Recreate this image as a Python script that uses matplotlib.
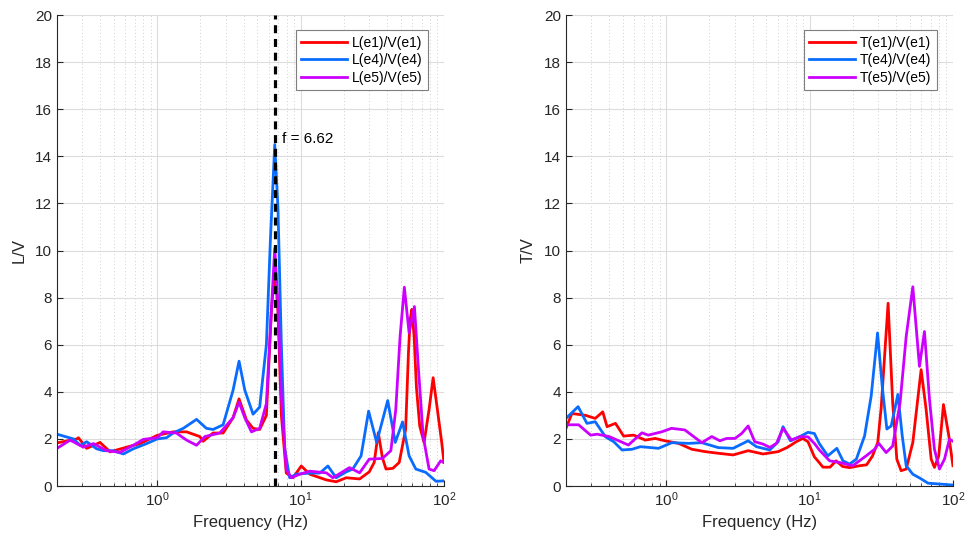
import numpy as np
import matplotlib
matplotlib.use("Agg")
import matplotlib.pyplot as plt
from matplotlib.ticker import LogLocator, NullFormatter, FixedLocator

plt.rcParams['font.family'] = ['Liberation Sans', 'DejaVu Sans']
plt.rcParams['mathtext.fontset'] = 'custom'
plt.rcParams['mathtext.rm'] = 'Liberation Sans'

# ---- left panel: L/V ----
f_L1 = [0.2, 0.275, 0.282, 0.322, 0.399, 0.469, 0.612, 0.757, 1.0, 1.29, 1.6, 1.98, 2.09, 2.45, 2.88,
        3.38, 3.72, 4.19, 4.66, 5.18, 5.77, 6.25, 6.6, 6.95, 7.34, 7.94, 8.85, 10.1, 11.6, 15.1, 17.7,
        20.8, 25.8, 30.1, 32.6, 34.8, 37.2, 39.4, 44.0, 48.7, 54.0, 56.5, 58.0, 59.7, 61.9, 64.2, 67.7,
        72.6, 78.7, 84.0, 89.9, 96.4, 100]
v_L1 = [1.83, 2.0, 2.05, 1.6, 1.85, 1.45, 1.65, 1.8, 2.15, 2.3, 2.3, 2.1, 1.9, 2.25, 2.25,
        2.9, 3.7, 2.8, 2.45, 2.4, 3.0, 7.4, 9.3, 7.4, 3.0, 0.55, 0.35, 0.85, 0.5, 0.26, 0.18,
        0.35, 0.3, 0.6, 1.0, 2.27, 1.2, 0.72, 0.75, 1.0, 2.4, 5.65, 7.05, 7.5, 6.35, 4.2, 2.55,
        1.85, 3.25, 4.6, 3.25, 1.85, 1.0]

f_L4 = [0.2, 0.26, 0.29, 0.322, 0.378, 0.421, 0.494, 0.58, 0.681, 0.843, 1.0, 1.16, 1.29, 1.52, 1.88,
        2.2, 2.45, 2.88, 3.38, 3.72, 4.08, 4.66, 5.18, 5.77, 6.15, 6.6, 6.95, 7.34, 7.74, 8.38, 9.33,
        11.6, 13.6, 15.5, 17.7, 20.8, 23.1, 26.4, 29.8, 33.9, 40.5, 45.7, 51.4, 57.1, 63.6, 74.6, 88, 100]
v_L4 = [2.2, 2.0, 1.73, 1.88, 1.58, 1.5, 1.5, 1.36, 1.58, 1.8, 2.0, 2.05, 2.25, 2.45, 2.83,
        2.45, 2.4, 2.6, 4.07, 5.3, 4.07, 3.05, 3.35, 6.0, 10.4, 14.5, 11.8, 6.0, 1.6, 0.35, 0.5,
        0.55, 0.55, 0.85, 0.35, 0.6, 0.72, 1.28, 3.18, 1.85, 3.63, 1.85, 2.72, 1.28, 0.72, 0.58, 0.2, 0.22]

f_L5 = [0.2, 0.247, 0.305, 0.359, 0.444, 0.55, 0.681, 0.8, 1.0, 1.1, 1.36, 1.6, 1.88, 2.15, 2.73,
        3.38, 3.72, 4.08, 4.54, 5.18, 5.77, 6.25, 6.6, 6.95, 7.34, 7.94, 8.61, 9.84, 11.6, 15.1, 16.8,
        21.9, 25.8, 30.1, 37.2, 42.6, 46.1, 49.4, 52.9, 57.1, 62.2, 66.4, 71.5, 78.7, 85.3, 94.8, 100]
v_L5 = [1.6, 1.95, 1.65, 1.8, 1.5, 1.43, 1.73, 1.98, 2.05, 2.3, 2.25, 1.95, 1.73, 2.1, 2.25,
        2.9, 3.56, 2.9, 2.3, 2.45, 3.5, 7.44, 10.1, 7.7, 3.8, 0.7, 0.35, 0.5, 0.63, 0.56, 0.35,
        0.78, 0.56, 1.14, 1.17, 1.5, 3.25, 6.35, 8.44, 6.5, 7.62, 4.94, 2.13, 0.72, 0.65, 1.07, 1.0]

# ---- right panel: T/V ----
f_T1 = [0.2, 0.22, 0.274, 0.32, 0.361, 0.387, 0.443, 0.505, 0.593, 0.715, 0.839, 0.98, 1.22, 1.51,
        1.87, 2.31, 2.93, 3.73, 4.74, 6.04, 7.0, 8.07, 8.97, 9.75, 10.8, 11.7, 12.4, 13.9, 15.3, 17.0,
        19.0, 22.3, 25.0, 27.5, 29.9, 31.6, 35.3, 38.0, 40.6, 43.5, 47.2, 52.5, 60.0, 65.0, 70.5,
        74.3, 79.6, 85.9, 93.6, 100]
v_T1 = [2.45, 3.08, 3.0, 2.87, 3.15, 2.52, 2.66, 2.12, 2.16, 1.95, 2.02, 1.92, 1.81, 1.56,
        1.46, 1.39, 1.32, 1.5, 1.36, 1.46, 1.64, 1.88, 2.02, 1.88, 1.24, 0.99, 0.8, 0.8, 1.07, 0.83,
        0.78, 0.86, 0.9, 1.28, 1.85, 3.34, 7.76, 3.54, 1.14, 0.65, 0.72, 1.85, 4.94, 3.25, 1.14,
        0.79, 1.28, 3.46, 2.13, 0.86]

f_T4 = [0.2, 0.243, 0.28, 0.32, 0.377, 0.431, 0.492, 0.578, 0.66, 0.754, 0.884, 1.095, 1.43, 1.77,
        2.31, 2.93, 3.73, 4.26, 5.28, 6.04, 6.53, 7.35, 8.5, 9.75, 10.8, 11.7, 13.4, 15.5, 17.1, 19.0,
        21.2, 24.2, 26.9, 29.8, 32.1, 34.6, 37.1, 41.3, 44.3, 47.2, 52.5, 58.6, 67, 78.7, 100]
v_T4 = [2.87, 3.37, 2.66, 2.73, 2.09, 1.88, 1.53, 1.56, 1.67, 1.64, 1.6, 1.84, 1.81, 1.84,
        1.63, 1.6, 1.92, 1.67, 1.53, 1.88, 2.52, 1.92, 2.09, 2.28, 2.23, 1.8, 1.28, 1.6, 1.07, 0.93,
        1.14, 2.13, 3.82, 6.5, 4.25, 2.42, 2.55, 3.89, 2.13, 0.86, 0.5, 0.34, 0.12, 0.09, 0.04]

f_T5 = [0.2, 0.245, 0.297, 0.33, 0.4, 0.545, 0.678, 0.75, 0.93, 1.09, 1.35, 1.77, 2.08, 2.37, 2.64,
        3.02, 3.36, 3.73, 4.15, 4.74, 5.28, 5.88, 6.53, 7.47, 8.5, 9.75, 10.8, 11.7, 13.8, 16.2, 20,
        24.8, 28.4, 30.4, 34.2, 38, 42.8, 47.2, 52.5, 58.4, 63.3, 68.6, 74.3, 80.5, 87.3, 94.6, 100]
v_T5 = [2.6, 2.6, 2.16, 2.2, 2.1, 1.74, 2.26, 2.16, 2.3, 2.45, 2.38, 1.84, 2.1, 1.92, 2.02,
        2.02, 2.23, 2.55, 1.88, 1.78, 1.64, 1.81, 2.45, 1.95, 2.09, 2.09, 1.81, 1.53, 1.07, 1.0, 0.86,
        1.28, 1.56, 1.81, 1.42, 1.7, 3.54, 6.35, 8.46, 5.08, 6.56, 3.68, 1.56, 0.72, 1.14, 1.99, 1.9]

f_peak = 6.62
labels_L = ["L(e1)/V(e1)", "L(e4)/V(e4)", "L(e5)/V(e5)"]
labels_T = ["T(e1)/V(e1)", "T(e4)/V(e4)", "T(e5)/V(e5)"]
colors = ["#ff0000", "#0a6cff", "#cc00ff"]
dark = "#262626"

fig = plt.figure(figsize=(9.65, 5.42), dpi=100)
ax1 = fig.add_axes([0.0591, 0.1033, 0.4010, 0.869])
ax2 = fig.add_axes([0.5865, 0.1033, 0.4010, 0.869])


def style(ax, ylabel):
    ax.set_xscale("log")
    ax.set_xlim(0.2, 100)
    ax.set_ylim(0, 20)
    ax.yaxis.set_major_locator(FixedLocator(np.arange(0, 21, 2)))
    ax.xaxis.set_major_locator(LogLocator(base=10, numticks=10))
    ax.xaxis.set_minor_locator(LogLocator(base=10, subs=np.arange(2, 10), numticks=10))
    ax.xaxis.set_minor_formatter(NullFormatter())
    ax.grid(True, which="major", color="#dcdcdc", lw=0.8)
    ax.grid(True, which="minor", axis="x", color="#d0d0d0", lw=0.7, ls=(0, (1, 2.5)))
    ax.set_axisbelow(True)
    for s in ("top", "right"):
        ax.spines[s].set_visible(False)
    for s in ("left", "bottom"):
        ax.spines[s].set_color(dark)
        ax.spines[s].set_linewidth(0.8)
    ax.tick_params(which="both", direction="in", colors=dark, labelsize=11)
    ax.tick_params(which="major", length=4)
    ax.tick_params(which="minor", length=2.5)
    ax.set_xlabel("Frequency (Hz)", fontsize=12, color=dark, labelpad=4)
    ax.set_ylabel(ylabel, fontsize=12, color=dark, labelpad=6)


style(ax1, "L/V")
style(ax2, "T/V")

for f, v, c, lab in zip([f_L1, f_L4, f_L5], [v_L1, v_L4, v_L5], colors, labels_L):
    ax1.plot(f, v, color=c, lw=2.0, label=lab, solid_joinstyle="round")
for f, v, c, lab in zip([f_T1, f_T4, f_T5], [v_T1, v_T4, v_T5], colors, labels_T):
    ax2.plot(f, v, color=c, lw=2.0, label=lab, solid_joinstyle="round")

ax1.axvline(f_peak, color="black", lw=2.3, ls=(0, (2.5, 1.8)), zorder=5)
ax1.text(7.45, 14.75, "f = %.2f" % f_peak, fontsize=11, color="black", va="center", ha="left")

for ax in (ax1, ax2):
    leg = ax.legend(loc="upper right", bbox_to_anchor=(0.959, 0.968), fontsize=10,
                    frameon=True, fancybox=False, edgecolor="#7f7f7f", framealpha=1,
                    handlelength=3.3, handletextpad=0.35, labelspacing=0.25, borderpad=0.4,
                    borderaxespad=0)
    leg.get_frame().set_linewidth(0.8)

fig.savefig("out.png", dpi=100)
